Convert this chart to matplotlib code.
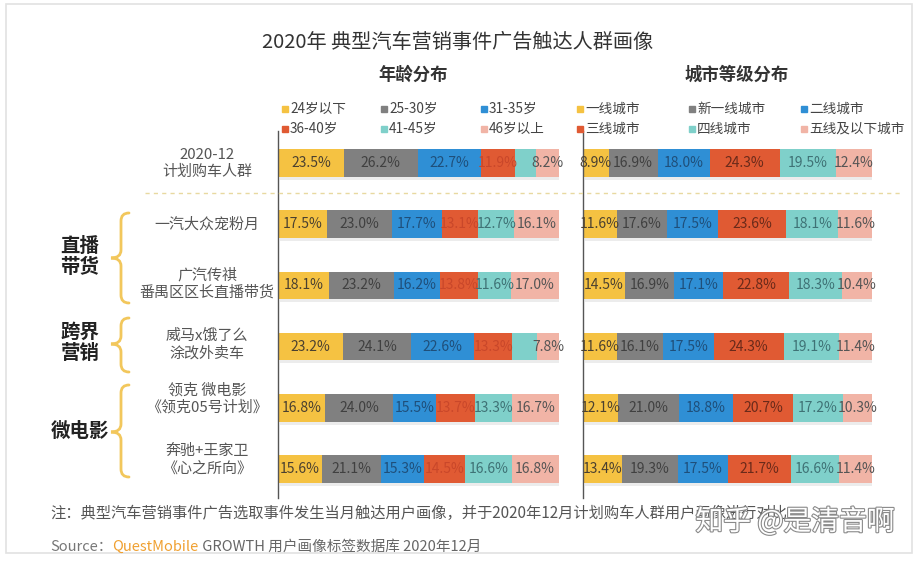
import matplotlib
matplotlib.use('Agg')
import matplotlib.pyplot as plt
import matplotlib.patheffects as pe
from matplotlib.path import Path
from matplotlib.patches import PathPatch, Rectangle
import numpy as np

plt.rcParams['font.family'] = ['Noto Sans CJK SC', 'DejaVu Sans']

W, H = 916, 563

# 数据
row_labels = ['2020-12\n计划购车人群', '一汽大众宠粉月', '广汽传祺\n番禺区区长直播带货',
              '威马x饿了么\n涂改外卖车', '领克 微电影\n《领克05号计划》', '奔驰+王家卫\n《心之所向》']
age_names = ['24岁以下', '25-30岁', '31-35岁', '36-40岁', '41-45岁', '46岁以上']
city_names = ['一线城市', '新一线城市', '二线城市', '三线城市', '四线城市', '五线及以下城市']

age_vals = [
    [23.5, 26.2, 22.7, 11.9, 7.5, 8.2],
    [17.5, 23.0, 17.7, 13.1, 12.7, 16.1],
    [18.1, 23.2, 16.2, 13.8, 11.6, 17.0],
    [23.2, 24.1, 22.6, 13.3, 9.0, 7.8],
    [16.8, 24.0, 15.5, 13.7, 13.3, 16.7],
    [15.6, 21.1, 15.3, 14.5, 16.6, 16.8],
]
city_vals = [
    [8.9, 16.9, 18.0, 24.3, 19.5, 12.4],
    [11.6, 17.6, 17.5, 23.6, 18.1, 11.6],
    [14.5, 16.9, 17.1, 22.8, 18.3, 10.4],
    [11.6, 16.1, 17.5, 24.3, 19.1, 11.4],
    [12.1, 21.0, 18.8, 20.7, 17.2, 10.3],
    [13.4, 19.3, 17.5, 21.7, 16.6, 11.4],
]
# 原图里没显示标签的格子 (行, 列)
age_hidden = [(0, 4), (3, 4)]

colors = ['#F5C242', '#808080', '#2F8FD5', '#E05A33', '#7FD0CA', '#F1B4A6']
age_txt = ['#4a4030', '#404040', '#1f4f7a', '#c9472a', '#3f7275', '#555555']
city_txt = ['#4a4030', '#404040', '#1f4f7a', '#6a2a1a', '#3f7275', '#555555']

groups = [('直播\n带货', 213, 303, 258), ('跨界\n营销', 318, 372, 344), ('微电影', 385, 477, 432)]
label_y = [163, 225, 284, 345, 399, 460]


def fx(x):
    return x / W


def fy(y):
    return 1 - y / H


fig = plt.figure(figsize=(W / 100, H / 100), dpi=100)

# 外框
fig.patches.append(Rectangle((fx(6), fy(553)), fx(906), 549 / H, transform=fig.transFigure,
                             fill=False, edgecolor='#e2e2e2', lw=1.2))

top, bot = 131, 498
row0, step = 163, 61.2


def draw_panel(x0, x1, vals, names, txtc, hidden, legend_x):
    ax = fig.add_axes([fx(x0), fy(bot), (x1 - x0) / W, (bot - top) / H])
    ax.set_xlim(0, 100)
    ax.set_ylim((bot - row0) / step, (top - row0) / step)
    ys = np.arange(len(vals))
    data = np.array(vals)
    # 阴影
    ax.barh(ys + 0.05, data.sum(axis=1), left=0.6, height=0.45, color='#ececec', zorder=1)
    left = np.zeros(len(vals))
    for j in range(data.shape[1]):
        ax.barh(ys, data[:, j], left=left, height=0.45, color=colors[j], zorder=2)
        for i in range(len(vals)):
            if (i, j) in hidden:
                continue
            ax.text(left[i] + data[i, j] / 2, ys[i], f'{data[i, j]:.1f}%', ha='center', va='center',
                    fontsize=10, color=txtc[j], zorder=3)
        left += data[:, j]
    for s in ['top', 'right', 'bottom']:
        ax.spines[s].set_visible(False)
    ax.spines['left'].set_color('#555555')
    ax.spines['left'].set_linewidth(1)
    ax.set_xticks([])
    ax.set_yticks([])
    ax.patch.set_alpha(0)
    # 图例
    for k, name in enumerate(names):
        lx = legend_x[k % 3]
        ly = 109 if k < 3 else 129
        fig.patches.append(Rectangle((fx(lx - 3), fy(ly + 3)), 6 / W, 6 / H, transform=fig.transFigure,
                                     color=colors[k]))
        fig.text(fx(lx + 5), fy(ly), name, fontsize=9.8, color='#444444', va='center', ha='left')
    return ax


draw_panel(278, 559, age_vals, age_names, age_txt, age_hidden, [285, 384, 484])
draw_panel(583, 872, city_vals, city_names, city_txt, [], [580, 692, 804])

# 标题
fig.text(fx(458), fy(43), '2020年 典型汽车营销事件广告触达人群画像', fontsize=14.5, color='#333333',
         ha='center', va='center')
fig.text(fx(413), fy(75), '年龄分布', fontsize=12.5, fontweight='bold', color='#333333', ha='center', va='center')
fig.text(fx(737), fy(75), '城市等级分布', fontsize=12.5, fontweight='bold', color='#333333', ha='center', va='center')

# 行标签
for lab, y in zip(row_labels, label_y):
    fig.text(fx(207), fy(y), lab, fontsize=10.8, color='#555555', ha='center', va='center', linespacing=1.25)

# 分隔虚线
fig.add_artist(plt.Line2D([fx(145), fx(900)], [fy(193), fy(193)], transform=fig.transFigure,
                          color='#e8d9a0', lw=1, ls=(0, (3, 3))))

# 大括号
def brace(x, y0, y1, ym):
    verts = [(x + 8, y0), (x, y0), (x, y0 + 8), (x, ym - 8), (x, ym), (x - 10, ym),
             (x, ym), (x, ym + 8), (x, y1 - 8), (x, y1), (x + 8, y1)]
    codes = [Path.MOVETO, Path.CURVE3, Path.CURVE3, Path.LINETO, Path.CURVE3, Path.CURVE3,
             Path.CURVE3, Path.CURVE3, Path.LINETO, Path.CURVE3, Path.CURVE3]
    verts = [(fx(a), fy(b)) for a, b in verts]
    fig.patches.append(PathPatch(Path(verts, codes), transform=fig.transFigure, fill=False,
                                 edgecolor='#F2C75C', lw=2, capstyle='round'))


for name, y0, y1, ym in groups:
    brace(121, y0, y1, ym)
    fig.text(fx(80), fy(ym - 1), name, fontsize=14, fontweight='bold', color='#222222',
             ha='center', va='center', linespacing=1.15)

# 注释
fig.text(fx(50), fy(513), '注：典型汽车营销事件广告选取事件发生当月触达用户画像，并于2020年12月计划购车人群用户画像进行对比',
         fontsize=11, color='#555555', ha='left', va='center')

renderer = fig.canvas.get_renderer()
x = 50
for txt, col in [('Source：', '#777777'), ('QuestMobile', '#F0A030'),
                  (' GROWTH 用户画像标签数据库 2020年12月', '#666666')]:
    t = fig.text(fx(x), fy(547), txt, fontsize=10.5, color=col, ha='left', va='center')
    x += t.get_window_extent(renderer).width

# 水印
fig.text(fx(795), fy(522), '知乎 @是清音啊', fontsize=20, color='white', ha='center', va='center',
         path_effects=[pe.withStroke(linewidth=1.6, foreground='#8a8a8a')])

fig.savefig('out.png', dpi=100)
